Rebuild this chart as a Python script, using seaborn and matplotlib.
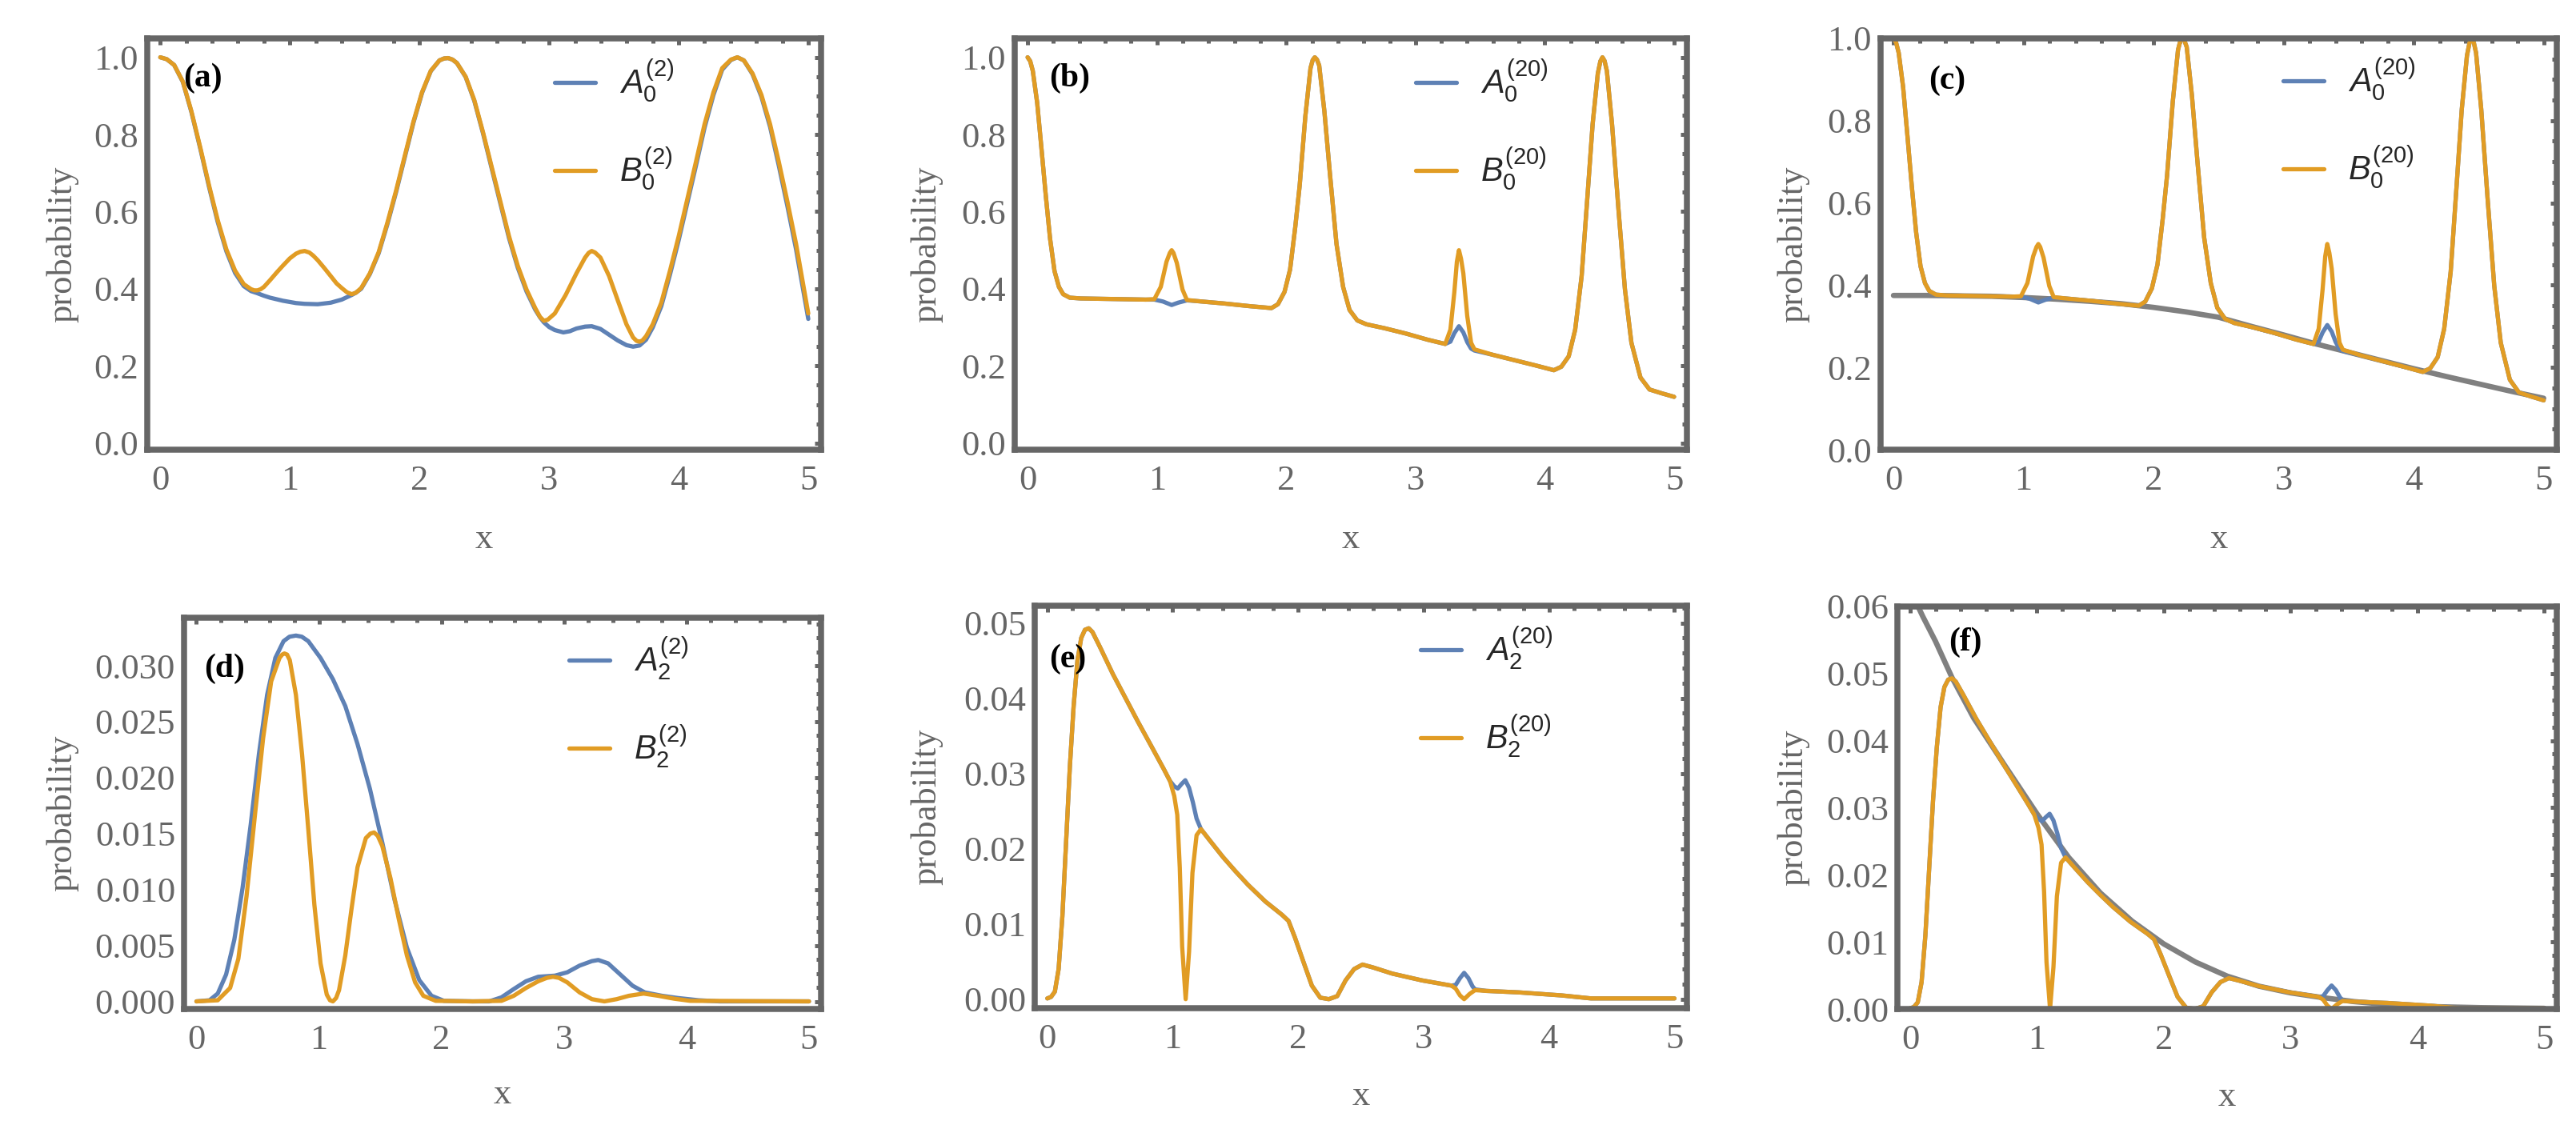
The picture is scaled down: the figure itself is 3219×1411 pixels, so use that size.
import matplotlib
matplotlib.use("Agg")
import matplotlib.pyplot as plt
from matplotlib.ticker import MultipleLocator, FormatStrFormatter
import pandas as pd
import seaborn as sns


# ---- data: (x, probability) pairs ----
# (a) n = 2, state 0
a0_n2 = [(0.0, 1.0), (0.05, 0.995), (0.107, 0.98), (0.174, 0.936), (0.24, 0.858), (0.31, 0.761),
         (0.376, 0.664), (0.443, 0.573), (0.51, 0.497), (0.577, 0.441), (0.644, 0.407), (0.70, 0.394),
         (0.745, 0.389), (0.80, 0.382), (0.846, 0.377), (0.946, 0.369), (1.047, 0.363), (1.114, 0.361),
         (1.215, 0.360), (1.315, 0.364), (1.40, 0.372), (1.477, 0.384), (1.51, 0.390), (1.55, 0.400),
         (1.617, 0.438), (1.685, 0.492), (1.752, 0.567), (1.819, 0.650), (1.886, 0.740), (1.953, 0.830),
         (2.02, 0.908), (2.087, 0.964), (2.154, 0.992), (2.19, 0.997), (2.221, 0.998), (2.255, 0.994),
         (2.289, 0.985), (2.356, 0.949), (2.423, 0.887), (2.49, 0.803), (2.557, 0.712), (2.624, 0.621),
         (2.691, 0.531), (2.758, 0.455), (2.826, 0.393), (2.893, 0.346), (2.93, 0.326), (2.96, 0.313),
         (3.0, 0.301), (3.044, 0.293), (3.11, 0.287), (3.16, 0.290), (3.211, 0.297), (3.278, 0.302),
         (3.329, 0.303), (3.396, 0.296), (3.463, 0.281), (3.53, 0.266), (3.597, 0.254), (3.648, 0.250),
         (3.698, 0.253), (3.748, 0.268), (3.80, 0.300), (3.866, 0.355), (3.933, 0.437), (4.0, 0.526),
         (4.067, 0.623), (4.134, 0.720), (4.2, 0.818), (4.268, 0.902), (4.336, 0.968), (4.403, 0.993),
         (4.453, 1.0), (4.503, 0.992), (4.57, 0.956), (4.638, 0.898), (4.705, 0.820), (4.772, 0.720),
         (4.839, 0.614), (4.906, 0.502), (5.0, 0.322)]
b0_n2 = [(0.0, 1.0), (0.05, 0.995), (0.107, 0.98), (0.174, 0.937), (0.24, 0.86), (0.31, 0.764),
         (0.376, 0.668), (0.443, 0.578), (0.51, 0.502), (0.577, 0.447), (0.644, 0.412), (0.70, 0.399),
         (0.725, 0.396), (0.75, 0.396), (0.775, 0.399), (0.80, 0.405), (0.846, 0.422), (0.90, 0.443),
         (0.946, 0.46), (1.00, 0.479), (1.047, 0.491), (1.08, 0.496), (1.114, 0.498), (1.15, 0.494),
         (1.18, 0.486), (1.215, 0.474), (1.265, 0.454), (1.315, 0.433), (1.36, 0.414), (1.40, 0.402),
         (1.44, 0.391), (1.477, 0.386), (1.51, 0.390), (1.55, 0.402), (1.617, 0.44), (1.685, 0.495),
         (1.752, 0.571), (1.819, 0.654), (1.886, 0.744), (1.953, 0.833), (2.02, 0.91), (2.087, 0.965),
         (2.154, 0.992), (2.19, 0.997), (2.221, 0.998), (2.255, 0.994), (2.289, 0.985), (2.356, 0.95),
         (2.423, 0.889), (2.49, 0.806), (2.557, 0.716), (2.624, 0.626), (2.691, 0.536), (2.758, 0.46),
         (2.826, 0.398), (2.893, 0.35), (2.93, 0.327), (2.96, 0.317), (2.99, 0.320), (3.044, 0.336),
         (3.128, 0.384), (3.211, 0.44), (3.278, 0.481), (3.305, 0.493), (3.329, 0.498), (3.355, 0.494),
         (3.396, 0.481), (3.463, 0.433), (3.53, 0.37), (3.597, 0.308), (3.648, 0.274), (3.675, 0.265),
         (3.698, 0.263), (3.72, 0.266), (3.748, 0.277), (3.80, 0.308), (3.866, 0.364), (3.933, 0.447),
         (4.0, 0.536), (4.067, 0.633), (4.134, 0.73), (4.2, 0.827), (4.268, 0.909), (4.336, 0.972),
         (4.403, 0.994), (4.453, 1.0), (4.503, 0.992), (4.57, 0.958), (4.638, 0.903), (4.705, 0.827),
         (4.772, 0.73), (4.839, 0.626), (4.906, 0.516), (5.0, 0.336)]

# (b), (c) n = 20, state 0
a0_n20 = [(0.0, 1.0), (0.02, 0.99), (0.04, 0.965), (0.074, 0.882), (0.107, 0.764), (0.141, 0.64),
          (0.174, 0.529), (0.208, 0.446), (0.242, 0.405), (0.275, 0.386), (0.326, 0.377), (0.41, 0.375),
          (0.577, 0.374), (0.745, 0.373), (0.913, 0.372), (0.98, 0.372), (1.047, 0.367), (1.114, 0.358),
          (1.164, 0.364), (1.232, 0.370), (1.315, 0.368), (1.517, 0.362), (1.718, 0.355), (1.886, 0.35),
          (1.936, 0.36), (1.987, 0.392), (2.03, 0.45), (2.07, 0.56), (2.104, 0.667), (2.148, 0.847),
          (2.188, 0.972), (2.205, 0.993), (2.221, 1.0), (2.238, 0.994), (2.255, 0.979), (2.295, 0.861),
          (2.339, 0.695), (2.389, 0.516), (2.44, 0.405), (2.49, 0.345), (2.55, 0.318), (2.62, 0.308),
          (2.758, 0.298), (2.926, 0.284), (3.094, 0.268), (3.23, 0.257), (3.27, 0.263), (3.30, 0.285),
          (3.336, 0.303), (3.37, 0.287), (3.40, 0.262), (3.43, 0.245), (3.456, 0.240), (3.597, 0.229),
          (3.765, 0.215), (3.933, 0.201), (4.07, 0.189), (4.128, 0.198), (4.185, 0.225), (4.235, 0.294),
          (4.285, 0.433), (4.33, 0.64), (4.37, 0.827), (4.41, 0.958), (4.43, 0.990), (4.446, 1.0),
          (4.462, 0.991), (4.48, 0.965), (4.52, 0.827), (4.57, 0.605), (4.62, 0.398), (4.67, 0.26),
          (4.74, 0.17), (4.81, 0.139), (4.906, 0.129), (5.0, 0.12)]
b0_n20 = [(0.0, 1.0), (0.02, 0.99), (0.04, 0.965), (0.074, 0.882), (0.107, 0.764), (0.141, 0.64),
          (0.174, 0.529), (0.208, 0.446), (0.242, 0.405), (0.275, 0.386), (0.326, 0.377), (0.41, 0.375),
          (0.577, 0.374), (0.745, 0.373), (0.913, 0.372), (0.98, 0.373), (1.03, 0.405), (1.074, 0.47),
          (1.10, 0.493), (1.114, 0.5), (1.128, 0.493), (1.154, 0.467), (1.198, 0.398), (1.232, 0.371),
          (1.315, 0.368), (1.517, 0.362), (1.718, 0.355), (1.886, 0.35), (1.936, 0.36), (1.987, 0.392),
          (2.03, 0.45), (2.07, 0.56), (2.104, 0.667), (2.148, 0.847), (2.188, 0.972), (2.205, 0.993),
          (2.221, 1.0), (2.238, 0.994), (2.255, 0.979), (2.295, 0.861), (2.339, 0.695), (2.389, 0.516),
          (2.44, 0.405), (2.49, 0.345), (2.55, 0.318), (2.62, 0.308), (2.758, 0.298), (2.926, 0.284),
          (3.094, 0.268), (3.23, 0.257), (3.27, 0.294), (3.30, 0.39), (3.32, 0.47), (3.336, 0.5),
          (3.352, 0.478), (3.37, 0.44), (3.40, 0.33), (3.43, 0.26), (3.456, 0.243), (3.597, 0.229),
          (3.765, 0.215), (3.933, 0.201), (4.07, 0.189), (4.128, 0.198), (4.185, 0.225), (4.235, 0.294),
          (4.285, 0.433), (4.33, 0.64), (4.37, 0.827), (4.41, 0.958), (4.43, 0.990), (4.446, 1.0),
          (4.462, 0.991), (4.48, 0.965), (4.52, 0.827), (4.57, 0.605), (4.62, 0.398), (4.67, 0.26),
          (4.74, 0.17), (4.81, 0.139), (4.906, 0.129), (5.0, 0.12)]
bound0 = [(0.0, 0.375), (0.25, 0.375), (0.5, 0.374), (0.75, 0.373), (1.0, 0.370), (1.25, 0.366),
          (1.5, 0.361), (1.75, 0.355), (2.0, 0.346), (2.25, 0.335), (2.5, 0.322), (2.75, 0.300),
          (3.0, 0.279), (3.25, 0.257), (3.5, 0.237), (3.75, 0.217), (4.0, 0.197), (4.25, 0.178),
          (4.5, 0.160), (4.75, 0.142), (5.0, 0.125)]

# (d) n = 2, state 2
a2_n2 = [(0.0, 0.0), (0.107, 0.0001), (0.174, 0.0007), (0.242, 0.0024), (0.309, 0.0055), (0.376, 0.0101),
         (0.443, 0.0158), (0.51, 0.0221), (0.577, 0.0274), (0.644, 0.0307), (0.711, 0.0322), (0.76, 0.0326),
         (0.812, 0.0327), (0.86, 0.0326), (0.913, 0.0322), (1.013, 0.0307), (1.114, 0.0288), (1.215, 0.0264),
         (1.315, 0.0230), (1.416, 0.0190), (1.517, 0.0142), (1.617, 0.0091), (1.718, 0.0048), (1.819, 0.0019),
         (1.919, 0.0005), (2.02, 0.00005), (2.255, 0.0), (2.39, 0.0), (2.49, 0.00036), (2.59, 0.0011),
         (2.69, 0.0018), (2.79, 0.0022), (2.926, 0.0023), (3.027, 0.0026), (3.128, 0.0032), (3.228, 0.0036),
         (3.28, 0.0037), (3.36, 0.0034), (3.46, 0.0024), (3.56, 0.0014), (3.66, 0.0008), (3.8, 0.0005),
         (3.93, 0.0003), (4.1, 0.0001), (4.27, 0.0), (5.0, 0.0)]
b2_n2 = [(0.0, 0.0), (0.174, 0.0001), (0.275, 0.0012), (0.342, 0.0038), (0.409, 0.0094), (0.477, 0.0166),
         (0.544, 0.0235), (0.61, 0.0286), (0.678, 0.0307), (0.70, 0.0310), (0.718, 0.0311), (0.74, 0.0310),
         (0.762, 0.0305), (0.812, 0.0274), (0.862, 0.0221), (0.913, 0.0154), (0.963, 0.0086), (1.013, 0.0034),
         (1.064, 0.0006), (1.09, 0.0001), (1.114, 0.0), (1.14, 0.0003), (1.164, 0.0010), (1.215, 0.0041),
         (1.265, 0.0082), (1.315, 0.0120), (1.383, 0.0146), (1.42, 0.0150), (1.45, 0.0151), (1.48, 0.0148),
         (1.517, 0.0139), (1.584, 0.0110), (1.651, 0.0074), (1.718, 0.0041), (1.785, 0.0017), (1.852, 0.0005),
         (1.953, 0.00005), (2.255, 0.0), (2.49, 0.00005), (2.59, 0.0005), (2.69, 0.0012), (2.79, 0.0018),
         (2.86, 0.0021), (2.91, 0.0022), (2.96, 0.0021), (3.027, 0.0017), (3.128, 0.0008), (3.228, 0.0002),
         (3.33, 0.0), (3.43, 0.0002), (3.53, 0.0005), (3.65, 0.0007), (3.77, 0.0005), (3.9, 0.00024),
         (4.03, 0.00005), (5.0, 0.0)]

# (e), (f) n = 20, state 2
a2_n20 = [(0.0, 0.0001), (0.03, 0.0003), (0.06, 0.001), (0.09, 0.004), (0.12, 0.011), (0.15, 0.021),
          (0.18, 0.031), (0.21, 0.039), (0.24, 0.045), (0.27, 0.048), (0.30, 0.0491), (0.33, 0.0493),
          (0.36, 0.0488), (0.42, 0.0468), (0.523, 0.0432), (0.624, 0.040), (0.725, 0.0368), (0.827, 0.0337),
          (0.928, 0.0306), (0.978, 0.029), (1.012, 0.0283), (1.04, 0.028), (1.07, 0.0286), (1.10, 0.0291),
          (1.13, 0.0281), (1.16, 0.0262), (1.19, 0.024), (1.225, 0.0226), (1.30, 0.021), (1.40, 0.0189),
          (1.50, 0.017), (1.60, 0.0152), (1.737, 0.013), (1.872, 0.0112), (1.923, 0.0104), (1.974, 0.0082),
          (2.041, 0.005), (2.109, 0.0018), (2.176, 0.0002), (2.244, 0.0), (2.311, 0.0004), (2.378, 0.0025),
          (2.446, 0.004), (2.513, 0.0046), (2.60, 0.0042), (2.75, 0.0034), (2.986, 0.0025), (3.222, 0.0018),
          (3.256, 0.0019), (3.29, 0.0028), (3.323, 0.0035), (3.357, 0.0028), (3.39, 0.0017), (3.41, 0.0013),
          (3.5, 0.0011), (3.762, 0.0009), (4.1, 0.0005), (4.335, 0.0001), (4.6, 0.0001), (5.0, 0.0001)]
b2_n20 = [(0.0, 0.0001), (0.03, 0.0003), (0.06, 0.001), (0.09, 0.004), (0.12, 0.011), (0.15, 0.021),
          (0.18, 0.031), (0.21, 0.039), (0.24, 0.045), (0.27, 0.048), (0.30, 0.0491), (0.33, 0.0493),
          (0.36, 0.0488), (0.42, 0.0468), (0.523, 0.0432), (0.624, 0.040), (0.725, 0.0368), (0.827, 0.0337),
          (0.928, 0.0306), (0.978, 0.029), (1.012, 0.027), (1.036, 0.0245), (1.056, 0.0175), (1.075, 0.007),
          (1.103, 0.0), (1.13, 0.0063), (1.157, 0.0168), (1.19, 0.0218), (1.225, 0.0226), (1.30, 0.021),
          (1.40, 0.0189), (1.50, 0.017), (1.60, 0.0152), (1.737, 0.013), (1.872, 0.0112), (1.923, 0.0104),
          (1.974, 0.0082), (2.041, 0.005), (2.109, 0.0018), (2.176, 0.0002), (2.244, 0.0), (2.311, 0.0004),
          (2.378, 0.0025), (2.446, 0.004), (2.513, 0.0046), (2.60, 0.0042), (2.75, 0.0034), (2.986, 0.0025),
          (3.222, 0.0018), (3.256, 0.0014), (3.29, 0.0005), (3.323, 0.0), (3.367, 0.0007), (3.41, 0.0012),
          (3.5, 0.0011), (3.762, 0.0009), (4.1, 0.0005), (4.335, 0.0001), (4.6, 0.0001), (5.0, 0.0001)]
bound2 = [(0.0, 0.0625), (0.1, 0.0585), (0.2, 0.0548), (0.33, 0.0494), (0.5, 0.0434), (0.75, 0.0362),
          (1.0, 0.0291), (1.25, 0.0226), (1.5, 0.0173), (1.75, 0.0131), (2.0, 0.0097), (2.25, 0.0070),
          (2.5, 0.0049), (2.75, 0.0034), (3.0, 0.0024), (3.25, 0.0017), (3.5, 0.0011), (3.75, 0.0007),
          (4.0, 0.0004), (4.5, 0.0002), (5.0, 0.0001)]

legend_labels = {
    'a': [r'$A_0^{(2)}$', r'$B_0^{(2)}$'],
    'b': [r'$A_0^{(20)}$', r'$B_0^{(20)}$'],
    'd': [r'$A_2^{(2)}$', r'$B_2^{(2)}$'],
    'e': [r'$A_2^{(20)}$', r'$B_2^{(20)}$'],
}

BLUE = '#5E81B5'
ORANGE = '#E19C24'
BOUND = '#808080'
FRAME = '#666666'
LW = 1.9

sns.set_style('white')
plt.rcParams['font.family'] = ['Liberation Serif', 'DejaVu Serif']
plt.rcParams['mathtext.fontset'] = 'custom'
plt.rcParams['mathtext.rm'] = 'Liberation Sans'
plt.rcParams['mathtext.it'] = 'Liberation Sans:italic'

fig = plt.figure(figsize=(16.095, 7.055), dpi=200)

panels = [
    dict(tag='a', rect=[0.0572, 0.6017, 0.2616, 0.3643], curves=(a0_n2, b0_n2, None),
         ylim=(-0.017, 1.049), major=0.2, minor=0.05, fmt='%.1f', ylab=-0.126,
         tagpos=(0.053, 0.904), leg=(0.604, 0.951), labels=legend_labels['a']),
    dict(tag='b', rect=[0.3939, 0.6017, 0.2610, 0.3643], curves=(a0_n20, b0_n20, None),
         ylim=(-0.017, 1.049), major=0.2, minor=0.05, fmt='%.1f', ylab=-0.131,
         tagpos=(0.051, 0.904), leg=(0.596, 0.951), labels=legend_labels['b']),
    dict(tag='c', rect=[0.7300, 0.6017, 0.2625, 0.3643], curves=(a0_n20, b0_n20, bound0),
         ylim=(0.0, 1.0), major=0.2, minor=0.05, fmt='%.1f', ylab=-0.129,
         tagpos=(0.071, 0.897), leg=(0.596, 0.955), labels=legend_labels['b']),
    dict(tag='d', rect=[0.0715, 0.1063, 0.2473, 0.3466], curves=(a2_n2, b2_n2, None),
         ylim=(-0.00068, 0.0343), major=0.005, minor=0.00125, fmt='%.3f', ylab=-0.191,
         tagpos=(0.031, 0.869), leg=(0.604, 0.953), labels=legend_labels['d']),
    dict(tag='e', rect=[0.4017, 0.1070, 0.2532, 0.3565], curves=(a2_n20, b2_n20, None),
         ylim=(-0.0012, 0.0523), major=0.01, minor=0.002, fmt='%.2f', ylab=-0.166,
         tagpos=(0.022, 0.867), leg=(0.591, 0.950), labels=legend_labels['e']),
    dict(tag='f', rect=[0.7366, 0.1063, 0.2560, 0.3565], curves=(a2_n20, b2_n20, bound2),
         ylim=(0.0, 0.06), major=0.01, minor=0.002, fmt='%.2f', ylab=-0.158,
         tagpos=(0.078, 0.911), leg=None, labels=None),
]


def draw(ax, pts, color, lw, label=None, z=2):
    df = pd.DataFrame(pts, columns=['x', 'p'])
    sns.lineplot(data=df, x='x', y='p', ax=ax, color=color, linewidth=lw,
                 label=label, estimator=None, sort=False, zorder=z)


for p in panels:
    ax = fig.add_axes(p['rect'])
    a_pts, b_pts, env = p['curves']
    lab = p['labels'] or [None, None]
    if env is not None:
        draw(ax, env, BOUND, 2.4, z=1.5)
    draw(ax, a_pts, BLUE, LW, label=lab[0], z=2)
    draw(ax, b_pts, ORANGE, LW, label=lab[1], z=2.1)

    ax.set_xlim(-0.1, 5.1)
    ax.set_ylim(*p['ylim'])
    ax.xaxis.set_major_locator(MultipleLocator(1))
    ax.xaxis.set_minor_locator(MultipleLocator(0.2))
    ax.xaxis.set_major_formatter(FormatStrFormatter('%d'))
    ax.yaxis.set_major_locator(MultipleLocator(p['major']))
    ax.yaxis.set_minor_locator(MultipleLocator(p['minor']))
    ax.yaxis.set_major_formatter(FormatStrFormatter(p['fmt']))

    ax.tick_params(which='both', direction='in', top=True, right=True,
                   color=FRAME, width=1.8, labelcolor=FRAME, labelsize=16)
    ax.tick_params(which='major', length=3.0)
    ax.tick_params(which='minor', length=2.1)
    ax.tick_params(axis='x', which='both', pad=7)
    ax.tick_params(axis='y', which='both', pad=4)
    for sp in ax.spines.values():
        sp.set_color(FRAME)
        sp.set_linewidth(2.7)
        sp.set_visible(True)

    ax.set_xlabel('x', fontsize=16, color=FRAME, va='center')
    ax.xaxis.set_label_coords(0.5, -0.218)
    ax.set_ylabel('probability', fontsize=16, color=FRAME, va='center')
    ax.yaxis.set_label_coords(p['ylab'], 0.5)

    ax.text(p['tagpos'][0], p['tagpos'][1], '(%s)' % p['tag'], transform=ax.transAxes,
            fontsize=15, fontweight='bold', color='black', ha='left', va='center')

    if p['leg'] is not None:
        ax.legend(loc='upper left', bbox_to_anchor=p['leg'], frameon=False, fontsize=15,
                  handlelength=1.22, handletextpad=0.72, labelspacing=1.25,
                  borderpad=0, borderaxespad=0)
    else:
        leg = ax.get_legend()
        if leg is not None:
            leg.remove()

fig.savefig('out.png', dpi=200)
